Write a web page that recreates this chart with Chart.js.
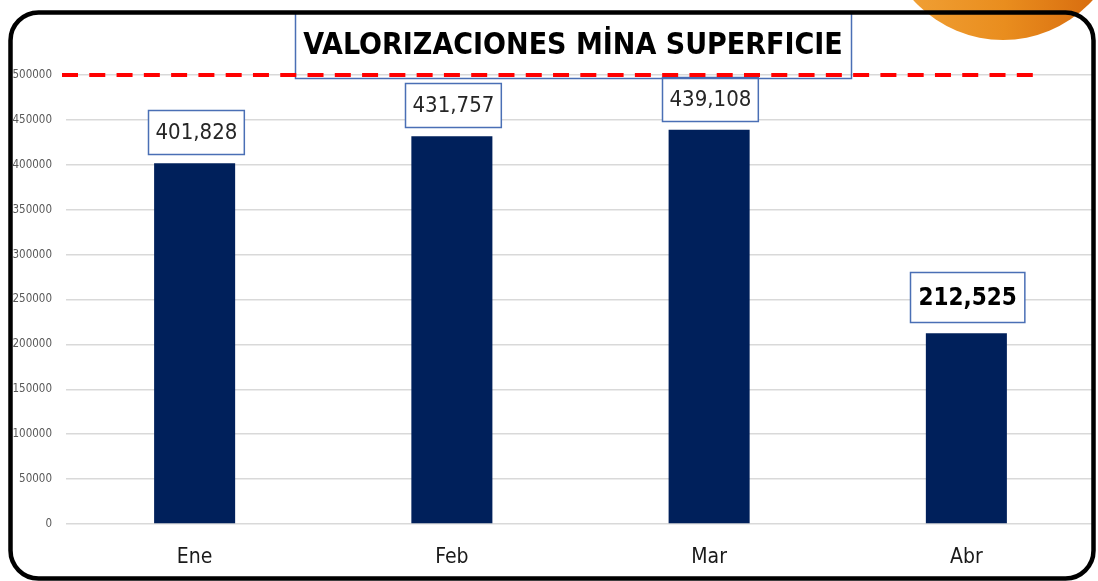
<!DOCTYPE html>
<html><head><meta charset="utf-8">
<script src="https://cdn.jsdelivr.net/npm/chart.js@4.4.1/dist/chart.umd.min.js"></script>
<style>html,body{margin:0;padding:0;background:#fff;overflow:hidden}canvas{display:block}</style>
</head><body>
<canvas id="c" width="1098" height="581"></canvas>
<script>
const chartTitle = 'VALORIZACIONES MİNA SUPERFICIE';
const months = ['Ene', 'Feb', 'Mar', 'Abr'];
const valorizaciones = [401828, 431757, 439108, 212525];
const targetValue = 500000;
const yTicks = [0, 50000, 100000, 150000, 200000, 250000, 300000, 350000, 400000, 450000, 500000];

const FONT = "'Liberation Sans Narrow', 'DejaVu Sans Condensed', 'Open Sans', sans-serif";

function roundRectPath(ctx, x, y, w, h, r) {
  ctx.beginPath();
  ctx.moveTo(x + r, y);
  ctx.lineTo(x + w - r, y);
  ctx.arcTo(x + w, y, x + w, y + r, r);
  ctx.lineTo(x + w, y + h - r);
  ctx.arcTo(x + w, y + h, x + w - r, y + h, r);
  ctx.lineTo(x + r, y + h);
  ctx.arcTo(x, y + h, x, y + h - r, r);
  ctx.lineTo(x, y + r);
  ctx.arcTo(x, y, x + r, y, r);
  ctx.closePath();
}

const decorPlugin = {
  id: 'decor',
  beforeDraw(chart) {
    const ctx = chart.ctx;
    ctx.save();
    ctx.fillStyle = '#ffffff';
    ctx.fillRect(0, 0, chart.width, chart.height);
    const g = ctx.createLinearGradient(885, 0, 1125, 0);
    g.addColorStop(0, '#f2a43a');
    g.addColorStop(0.5, '#e98d1e');
    g.addColorStop(1, '#d2620a');
    ctx.fillStyle = g;
    ctx.beginPath();
    ctx.arc(1003, -81, 121, 0, Math.PI * 2);
    ctx.fill();
    ctx.restore();
  },
  afterDraw(chart) {
    const ctx = chart.ctx;
    const area = chart.chartArea;
    const yScale = chart.scales.y;
    ctx.save();
    // title with box
    ctx.font = `bold 30px ${FONT}`;
    const tw = ctx.measureText(chartTitle).width;
    const cx = 573;
    const cy = 45;
    ctx.fillStyle = '#000000';
    ctx.textAlign = 'center';
    ctx.textBaseline = 'middle';
    ctx.fillText(chartTitle, cx, cy + 1);
    ctx.strokeStyle = '#4a6fb5';
    ctx.lineWidth = 1.5;
    ctx.strokeRect(Math.round(cx - tw / 2 - 8) + 0.5, 12.5, Math.round(tw + 16), 66);
    // target dashed line
    const yT = yScale.getPixelForValue(targetValue);
    ctx.strokeStyle = '#ff0000';
    ctx.lineWidth = 4;
    ctx.setLineDash([16, 11.28]);
    ctx.beginPath();
    ctx.moveTo(area.left - 4, yT);
    ctx.lineTo(area.right - 61, yT);
    ctx.stroke();
    ctx.setLineDash([]);
    // frame
    ctx.strokeStyle = '#000000';
    ctx.lineWidth = 4.5;
    roundRectPath(ctx, 10.5, 12.5, 1083, 566, 28);
    ctx.stroke();
    ctx.restore();
  }
};

const labelPlugin = {
  id: 'boxLabels',
  afterDatasetsDraw(chart) {
    const ctx = chart.ctx;
    const meta = chart.getDatasetMeta(0);
    const data = chart.data.datasets[0].data;
    ctx.save();
    meta.data.forEach((bar, i) => {
      const strong = i === data.length - 1;
      const size = strong ? 24 : 22;
      ctx.font = `${strong ? 'bold ' : ''}${size}px ${FONT}`;
      const txt = data[i].toLocaleString('en-US');
      const w = ctx.measureText(txt).width;
      const bw = w + (strong ? 16 : 14);
      const bh = strong ? 50 : 44;
      const gap = strong ? 11 : 9;
      const x0 = Math.round(bar.x - bw / 2 + 1) + 0.5;
      const y0 = Math.round(bar.y - gap - bh) + 0.5;
      ctx.fillStyle = '#ffffff';
      ctx.fillRect(x0, y0, bw, bh);
      ctx.strokeStyle = '#4a6fb5';
      ctx.lineWidth = 1.5;
      ctx.strokeRect(x0, y0, bw, bh);
      ctx.fillStyle = strong ? '#000000' : '#262626';
      ctx.textAlign = 'center';
      ctx.textBaseline = 'middle';
      ctx.fillText(txt, x0 + bw / 2, y0 + bh / 2 + 1);
    });
    ctx.restore();
  }
};

new Chart(document.getElementById('c'), {
  type: 'bar',
  data: {
    labels: months,
    datasets: [{
      data: valorizaciones,
      backgroundColor: '#00205b',
      borderWidth: 0,
      barPercentage: 0.315,
      categoryPercentage: 1.0
    }]
  },
  options: {
    responsive: false,
    animation: false,
    devicePixelRatio: 1,
    layout: { padding: { left: 10, right: 3, top: 75, bottom: 11 } },
    plugins: {
      legend: { display: false },
      tooltip: { enabled: false },
      title: { display: false }
    },
    scales: {
      x: {
        afterFit(scale) { scale.height = 46; },
        grid: { display: false, drawTicks: false },
        border: { display: false },
        ticks: { color: '#1a1a1a', font: { family: FONT, size: 21 }, padding: 21 }
      },
      y: {
        min: 0,
        max: targetValue,
        afterBuildTicks(scale) { scale.ticks = yTicks.map(v => ({ value: v })); },
        afterFit(scale) { scale.width = 56; },
        grid: { color: '#d9d9d9', lineWidth: 1.5, drawTicks: false },
        border: { display: false },
        ticks: {
          color: '#595959',
          font: { family: FONT, size: 11.5 },
          padding: 14,
          callback: v => String(v)
        }
      }
    }
  },
  plugins: [decorPlugin, labelPlugin]
});
</script>
</body></html>
